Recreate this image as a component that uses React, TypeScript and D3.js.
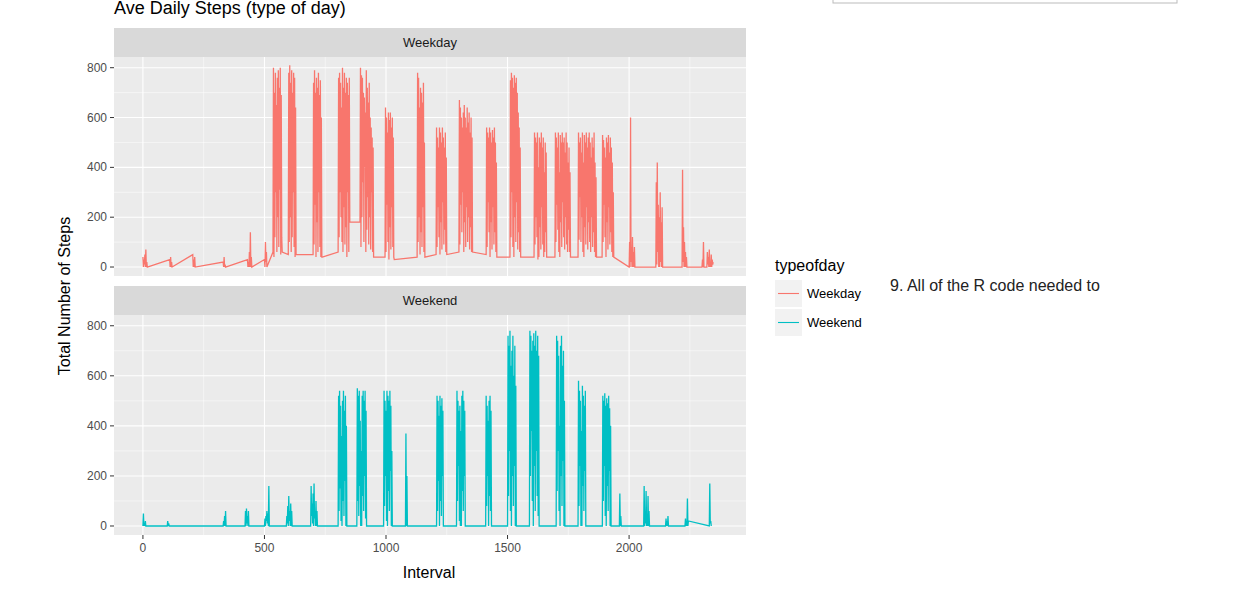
import * as d3 from "d3";

// interval where each burst starts; consecutive values are 2 interval units apart
const weekdayStarts = [0, 110, 205, 330, 430, 500, 535, 598, 700, 803, 893, 996, 1128, 1206, 1300, 1412, 1510, 1609, 1695, 1790, 1889, 2000, 2110, 2218, 2300, 2320];
const weekdayValues: number[][] = [
  [40, 0, 30, 10, 50, 0, 70, 0, 20, 0],
  [30, 0, 40, 0, 20, 0],
  [50, 0, 30, 0, 40, 0],
  [20, 0, 40, 0, 10, 0],
  [30, 0, 20, 0, 60, 0, 140, 0, 40, 0],
  [30, 0, 100, 20, 60, 0],
  [60, 800, 40, 700, 120, 780, 300, 650, 60, 760, 200, 790, 80, 720, 310, 800, 50, 690, 120, 60],
  [50, 780, 100, 810, 200, 740, 60, 790, 120, 700, 300, 780, 80, 760, 40, 640, 50],
  [50, 740, 90, 790, 250, 700, 40, 760, 180, 720, 60, 780, 300, 690, 80, 750, 40, 600, 40, 40],
  [60, 760, 120, 780, 300, 740, 200, 640, 100, 800, 60, 720, 240, 780, 90, 700, 160, 760, 40, 740, 300, 690, 60, 760, 180],
  [180, 800, 80, 770, 200, 760, 340, 700, 100, 680, 400, 620, 60, 790, 150, 720, 280, 660, 90, 740, 200, 600, 70, 560, 300, 520, 60, 480, 40],
  [40, 640, 60, 600, 250, 540, 100, 620, 30, 590, 160, 620, 70, 560, 240, 600, 80, 520, 40, 30],
  [40, 780, 100, 760, 200, 640, 50, 720, 140, 700, 80, 660, 240, 740, 60, 500, 40],
  [50, 560, 80, 520, 240, 480, 120, 560, 50, 540, 180, 500, 70, 560, 260, 520, 90, 480, 150, 540, 60, 440, 50],
  [60, 670, 90, 640, 250, 600, 140, 560, 300, 620, 60, 650, 180, 600, 80, 560, 240, 640, 100, 580, 200, 620, 70, 540, 160, 600, 60, 520, 60],
  [50, 560, 80, 540, 260, 520, 140, 560, 40, 540, 180, 500, 70, 550, 240, 520, 90, 560, 140, 500, 60, 420, 40],
  [40, 750, 120, 780, 300, 760, 80, 720, 40, 770, 200, 740, 100, 760, 260, 700, 70, 620, 140, 560, 60, 480, 40],
  [40, 540, 90, 520, 200, 500, 120, 540, 30, 400, 40, 520, 160, 500, 70, 540, 240, 480, 90, 520, 40, 380, 60, 500, 140, 460, 40],
  [40, 540, 100, 520, 250, 480, 150, 540, 60, 380, 40, 530, 180, 500, 80, 540, 260, 500, 120, 520, 70, 460, 200, 540, 90, 500, 60, 420, 150, 480, 60, 380, 40],
  [40, 540, 110, 500, 280, 520, 100, 460, 200, 540, 60, 420, 40, 530, 160, 500, 90, 540, 240, 480, 70, 520, 180, 540, 100, 500, 60, 440, 200, 520, 80, 480, 140, 540, 60, 420, 40, 360, 40, 40],
  [40, 530, 100, 510, 250, 480, 120, 440, 40, 520, 180, 500, 70, 530, 240, 460, 90, 520, 140, 480, 60, 420, 40, 300, 40],
  [0, 100, 0, 600, 20, 80, 0, 120, 0, 60, 0, 80, 0],
  [0, 340, 10, 420, 60, 250, 0, 200, 0, 300, 20, 180, 0, 240, 0],
  [0, 390, 20, 160, 0, 100, 0, 60, 0, 40, 0],
  [0, 30, 0, 100, 0],
  [0, 60, 10, 40, 0, 70, 0, 20, 0, 50, 0, 30, 10, 20],
];
const weekendStarts = [0, 100, 330, 420, 500, 590, 690, 803, 880, 990, 1080, 1208, 1290, 1410, 1500, 1590, 1700, 1790, 1890, 1960, 2060, 2150, 2230, 2330];
const weekendValues: number[][] = [
  [0, 50, 0, 10, 0, 20, 0, 0],
  [0, 20, 0, 10, 0, 0],
  [0, 20, 0, 40, 0, 60, 0],
  [0, 60, 0, 70, 10, 40, 0, 60, 0],
  [0, 30, 0, 40, 20, 60, 10, 50, 0, 160, 0],
  [0, 40, 10, 80, 0, 120, 20, 60, 0, 90, 0, 60, 0],
  [0, 160, 40, 90, 10, 130, 0, 170, 30, 60, 0, 100, 0, 60, 0],
  [0, 520, 60, 540, 150, 480, 20, 360, 0, 500, 100, 540, 40, 460, 180, 520, 0, 400, 0],
  [0, 550, 100, 520, 40, 540, 160, 420, 0, 300, 0, 520, 120, 540, 60, 500, 200, 540, 30, 460, 0],
  [0, 540, 80, 500, 200, 460, 20, 540, 0, 520, 140, 500, 60, 540, 220, 480, 0, 300, 0],
  [0, 370, 0, 200, 0],
  [0, 520, 60, 500, 180, 440, 0, 520, 100, 480, 40, 510, 200, 460, 0],
  [0, 540, 100, 500, 240, 460, 20, 480, 0, 380, 0, 520, 140, 540, 60, 500, 200, 460, 0],
  [0, 520, 80, 480, 200, 420, 0, 500, 120, 520, 60, 460, 0],
  [0, 760, 120, 720, 300, 780, 60, 640, 0, 700, 200, 760, 80, 600, 240, 720, 0, 560, 0],
  [0, 780, 200, 760, 380, 700, 100, 740, 0, 770, 240, 720, 60, 780, 300, 700, 120, 760, 40, 680, 0],
  [0, 760, 140, 740, 300, 680, 60, 400, 0, 720, 200, 760, 80, 640, 260, 700, 0, 500, 0],
  [0, 580, 80, 540, 240, 500, 0, 380, 0, 560, 160, 520, 60, 480, 220, 540, 0],
  [0, 520, 100, 500, 240, 530, 40, 480, 0, 510, 160, 490, 60, 520, 220, 470, 0, 400, 0],
  [0, 130, 0, 40, 0],
  [0, 160, 0, 60, 10, 140, 0, 40, 0, 120, 0, 60, 0],
  [0, 30, 0, 20, 0, 40, 0],
  [0, 30, 0, 20, 0, 110, 0, 20],
  [0, 170, 10, 20, 0],
];

const xTicks = [0, 500, 1000, 1500, 2000];
const yTicks = [0, 200, 400, 600, 800];

const toPoints = (starts: number[], vals: number[][]) =>
  starts.flatMap((s, i) => vals[i].map((v, j) => [s + j * 2, v] as [number, number]));

const W = 1237, H = 589;
const pl = 114, pr = 746;
const panels = [
  { label: "Weekday", stripTop: 28, top: 57, bottom: 276, color: "#F8766D", pts: toPoints(weekdayStarts, weekdayValues) },
  { label: "Weekend", stripTop: 286, top: 315, bottom: 535, color: "#00BFC4", pts: toPoints(weekendStarts, weekendValues) },
];

export default function App() {
  const x = d3.scaleLinear().domain([-119, 2481]).range([pl, pr]);
  const font = "Liberation Sans, Arial, sans-serif";
  return (
    <svg width={W} height={H} style={{ position: "absolute", left: 0, top: 0, background: "#fff" }} fontFamily={font}>
      <text x={114} y={14} fontSize={18} fill="#000">Ave Daily Steps (type of day)</text>
      <rect x={833} y={-4} width={344} height={7} fill="#fff" stroke="#bbb" />
      {panels.map((p, k) => {
        const y = d3.scaleLinear().domain([-36, 843]).range([p.bottom, p.top]);
        const line = d3.line<[number, number]>().x((d) => x(d[0])).y((d) => y(d[1]));
        return (
          <g key={k}>
            <rect x={pl} y={p.stripTop} width={pr - pl} height={p.top - p.stripTop} fill="#D9D9D9" />
            <text x={(pl + pr) / 2} y={(p.stripTop + p.top) / 2 + 4} textAnchor="middle" fontSize={13} fill="#1A1A1A">{p.label}</text>
            <rect x={pl} y={p.top} width={pr - pl} height={p.bottom - p.top} fill="#EBEBEB" />
            <clipPath id={`c${k}`}><rect x={pl} y={p.top} width={pr - pl} height={p.bottom - p.top} /></clipPath>
            {[250, 750, 1250, 1750, 2250].map((t) => (
              <line key={t} x1={x(t)} x2={x(t)} y1={p.top} y2={p.bottom} stroke="#fff" strokeWidth={0.5} />
            ))}
            {[100, 300, 500, 700].map((t) => (
              <line key={t} x1={pl} x2={pr} y1={y(t)} y2={y(t)} stroke="#fff" strokeWidth={0.5} />
            ))}
            {xTicks.map((t) => (
              <line key={t} x1={x(t)} x2={x(t)} y1={p.top} y2={p.bottom} stroke="#fff" strokeWidth={1.1} />
            ))}
            {yTicks.map((t) => (
              <g key={t}>
                <line x1={pl} x2={pr} y1={y(t)} y2={y(t)} stroke="#fff" strokeWidth={1.1} />
                <line x1={pl - 4} x2={pl} y1={y(t)} y2={y(t)} stroke="#333" />
                <text x={pl - 7} y={y(t) + 4} textAnchor="end" fontSize={12} fill="#4D4D4D">{t}</text>
              </g>
            ))}
            <path d={line(p.pts) ?? ""} fill="none" stroke={p.color} strokeWidth={1.3} clipPath={`url(#c${k})`} />
          </g>
        );
      })}
      {xTicks.map((t) => (
        <g key={t}>
          <line x1={x(t)} x2={x(t)} y1={535} y2={539} stroke="#333" />
          <text x={x(t)} y={552} textAnchor="middle" fontSize={12} fill="#4D4D4D">{t}</text>
        </g>
      ))}
      <text x={429} y={578} textAnchor="middle" fontSize={16}>Interval</text>
      <text transform="translate(70,296) rotate(-90)" textAnchor="middle" fontSize={16}>Total Number of Steps</text>
      <text x={775} y={271} fontSize={16}>typeofday</text>
      {panels.map((p, i) => (
        <g key={i}>
          <rect x={775} y={280 + i * 29} width={27} height={27} fill="#F2F2F2" />
          <line x1={778} x2={799} y1={293.5 + i * 29} y2={293.5 + i * 29} stroke={p.color} strokeWidth={1.1} />
          <text x={807} y={298 + i * 29} fontSize={13}>{p.label}</text>
        </g>
      ))}
      <text x={890} y={291} fontSize={16} fill="#222">9. All of the R code needed to</text>
    </svg>
  );
}
